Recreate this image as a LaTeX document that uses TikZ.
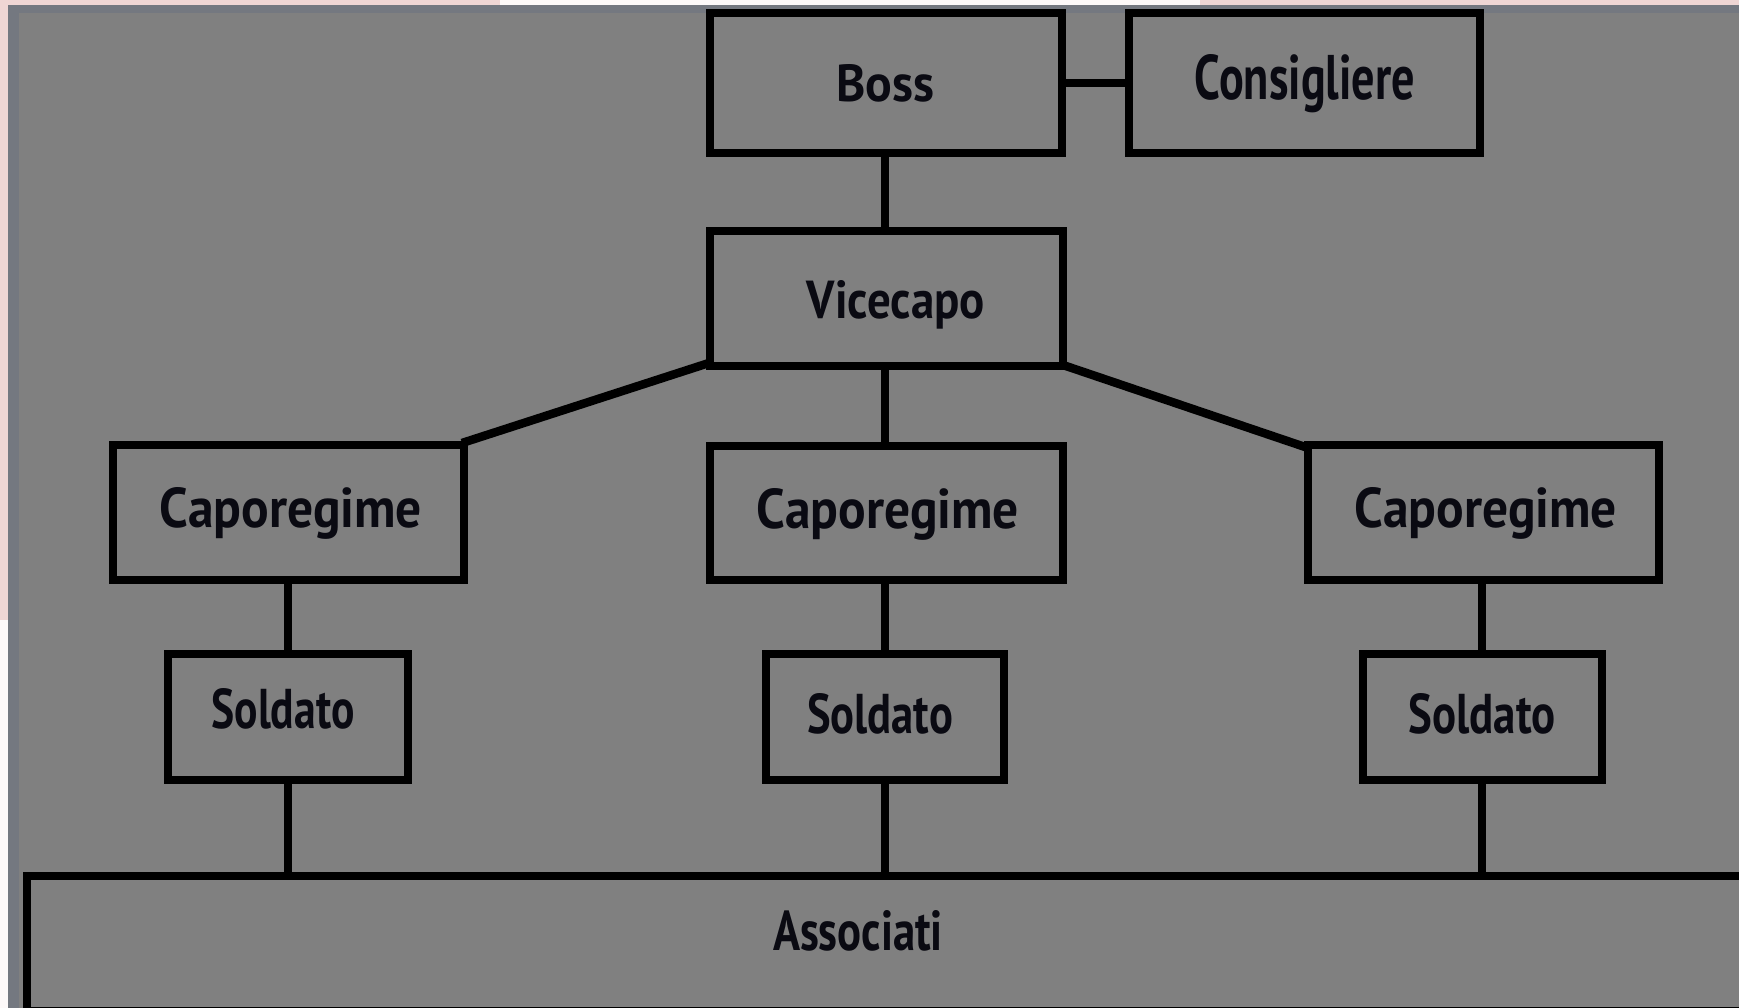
\documentclass[tikz,border=0pt]{standalone}
\usepackage{fontspec}
\setmainfont{PT Sans}
\usepackage{graphicx}
\usetikzlibrary{backgrounds}
\definecolor{bgpink}{HTML}{EFD6D4}
\definecolor{edgegray}{HTML}{747880}
\definecolor{panel}{HTML}{808080}
\definecolor{ink}{HTML}{0A0A12}
\begin{document}
\begin{tikzpicture}[x=1pt,y=-1pt,
  box/.style={draw=black, line width=8pt, fill=panel, inner sep=0pt,
              minimum width=352pt, minimum height=136pt},
  smallbox/.style={box, minimum width=240pt, minimum height=126pt},
  lab/.style={inner sep=0pt, anchor=base, text=ink, font=\bfseries},
  link/.style={draw=black, line width=8pt},
  diag/.style={draw=black, line width=8.5pt}]
\useasboundingbox (0,0) rectangle (1739,1008);

% boxes
\node[box, minimum height=140pt] (boss) at (886,83) {};
\node[box, minimum width=351pt, minimum height=140pt] (cons) at (1304.5,83) {};
\node[box, minimum width=353pt, minimum height=135pt] (vice) at (886.5,298.5) {};
\node[box, minimum width=351pt, minimum height=135pt] (capL) at (288.5,512.5) {};
\node[box, minimum width=353pt, minimum height=134pt] (capM) at (886.5,513) {};
\node[box, minimum width=351pt, minimum height=135pt] (capR) at (1483.5,512.5) {};
\node[smallbox] (solL) at (288,717) {};
\node[smallbox, minimum width=238pt] (solM) at (885,717) {};
\node[smallbox, minimum width=239pt] (solR) at (1482,717) {};
\node[box, anchor=north west, minimum width=1760pt, minimum height=135pt] (assoc) at (23,872) {};

% labels
\node[lab] (tBoss) at (885,102) {\resizebox{98pt}{37pt}{Boss}};
\node[lab] (tCons) at (1305,100) {\resizebox{220pt}{45pt}{Consigliere}};
\node[lab] (tVice) at (896,318) {\resizebox{178pt}{38pt}{Vicecapo}};
\node[lab] (tCapL) at (291,527) {\resizebox{262pt}{40pt}{Caporegime}};
\node[lab] (tCapM) at (888,528) {\resizebox{262pt}{40pt}{Caporegime}};
\node[lab] (tCapR) at (1486,527) {\resizebox{262pt}{40pt}{Caporegime}};
\node[lab] (tSolL) at (283,728) {\resizebox{143pt}{40pt}{Soldato}};
\node[lab] (tSolM) at (880,733) {\resizebox{146pt}{40pt}{Soldato}};
\node[lab] (tSolR) at (1482,733) {\resizebox{147pt}{40pt}{Soldato}};
\node[lab] (tAssoc) at (858,950) {\resizebox{170pt}{40pt}{Associati}};

\begin{scope}[on background layer]
% backdrop
\fill[bgpink] (0,0) rectangle (1739,1008);
\fill[white!85!bgpink] (500,0) rectangle (1200,5);
\fill[white!85!bgpink] (0,620) rectangle (8,1008);
\fill[edgegray] (8,5) rectangle (1739,1008);
\fill[panel] (19,13) rectangle (1739,1008);
% connectors (under the boxes)
\draw[link] (boss.east) -- (cons.west);
\draw[link] (solM.north |- boss.south) -- (solM.north |- vice.north);
\draw[link] (solM.north |- vice.south) -- (solM.north |- capM.north);
\draw[diag] ([shift={(6,-8)}]vice.south west) -- ([shift={(-6,2)}]capL.north east);
\draw[diag] ([shift={(-7,-6)}]vice.south east) -- ([shift={(4,7)}]capR.north west);
\draw[link] (solL.north |- capL.south) -- (solL.north);
\draw[link] (solM.north |- capM.south) -- (solM.north);
\draw[link] (solR.north |- capR.south) -- (solR.north);
\draw[link] (solL.south) -- (solL.south |- assoc.north);
\draw[link] (solM.south) -- (solM.south |- assoc.north);
\draw[link] (solR.south) -- (solR.south |- assoc.north);
\end{scope}
\end{tikzpicture}
\end{document}
